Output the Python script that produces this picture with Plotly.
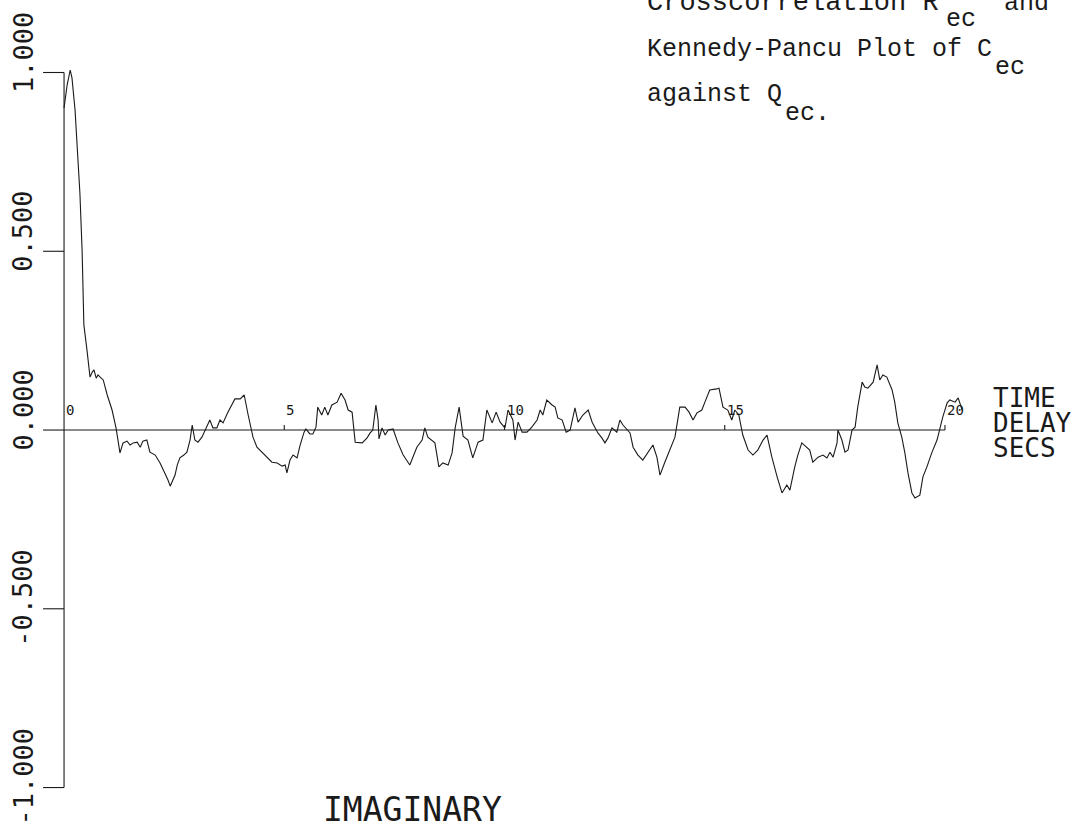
import plotly.graph_objects as go

# ---------------- data ----------------
lag_s = [0.00, 0.07, 0.14, 0.18, 0.25, 0.30, 0.36, 0.41, 0.43, 0.45, 0.52, 0.59, 0.64, 0.68, 0.73, 0.77, 0.82, 0.89, 0.98, 1.09,
         1.18, 1.23, 1.27, 1.34, 1.43, 1.50, 1.57, 1.66, 1.73, 1.79, 1.88, 1.95, 2.07, 2.18, 2.29, 2.36, 2.41, 2.45, 2.52, 2.57,
         2.63, 2.72, 2.79, 2.86, 2.91, 2.97, 3.04, 3.13, 3.20, 3.31, 3.38, 3.47, 3.54, 3.61, 3.72, 3.88, 4.00, 4.09, 4.18, 4.29,
         4.38, 4.49, 4.61, 4.72, 4.84, 4.95, 5.02, 5.06, 5.13, 5.20, 5.29, 5.36, 5.45, 5.49, 5.58, 5.65, 5.72, 5.76, 5.85, 5.92,
         5.99, 6.08, 6.20, 6.29, 6.38, 6.45, 6.54, 6.58, 6.61, 6.77, 6.88, 6.95, 7.01, 7.08, 7.13, 7.15, 7.22, 7.29, 7.36, 7.47,
         7.58, 7.70, 7.85, 8.01, 8.13, 8.19, 8.26, 8.42, 8.51, 8.60, 8.72, 8.81, 8.88, 8.97, 9.06, 9.17, 9.28, 9.40, 9.51, 9.60,
         9.72, 9.81, 9.90, 10.01, 10.08, 10.19, 10.24, 10.31, 10.40, 10.51, 10.62, 10.74, 10.81, 10.87, 10.96, 11.08, 11.15, 11.21, 11.31, 11.40,
         11.49, 11.60, 11.67, 11.78, 11.90, 11.99, 12.05, 12.12, 12.21, 12.28, 12.35, 12.44, 12.55, 12.62, 12.69, 12.78, 12.85, 12.92, 13.03, 13.14,
         13.26, 13.37, 13.46, 13.53, 13.64, 13.76, 13.87, 13.98, 14.10, 14.19, 14.28, 14.37, 14.48, 14.55, 14.66, 14.82, 14.87, 14.96, 15.07, 15.16,
         15.23, 15.32, 15.41, 15.53, 15.64, 15.75, 15.87, 15.96, 16.07, 16.19, 16.30, 16.41, 16.48, 16.59, 16.66, 16.75, 16.87, 16.93, 17.00, 17.12,
         17.23, 17.32, 17.39, 17.46, 17.55, 17.57, 17.66, 17.73, 17.80, 17.89, 17.96, 18.02, 18.12, 18.18, 18.25, 18.37, 18.46, 18.52, 18.59, 18.68,
         18.80, 18.86, 18.93, 19.02, 19.09, 19.16, 19.25, 19.32, 19.43, 19.50, 19.59, 19.70, 19.82, 19.89, 19.95, 20.05, 20.11, 20.23, 20.30, 20.39]

r_ec = [0.901, 0.965, 1.007, 0.985, 0.895, 0.783, 0.663, 0.503, 0.364, 0.294, 0.224, 0.148, 0.162, 0.168, 0.145, 0.154, 0.148, 0.140, 0.098, 0.056,
        0.006, -0.036, -0.064, -0.036, -0.031, -0.042, -0.036, -0.034, -0.048, -0.031, -0.028, -0.062, -0.070, -0.092, -0.120, -0.140, -0.157, -0.145, -0.126, -0.098,
        -0.078, -0.070, -0.062, -0.028, 0.014, -0.028, -0.034, -0.020, 0.000, 0.028, 0.006, 0.006, 0.028, 0.020, 0.050, 0.087, 0.087, 0.098, 0.042, -0.020,
        -0.048, -0.062, -0.078, -0.090, -0.092, -0.101, -0.098, -0.120, -0.084, -0.070, -0.078, -0.042, -0.006, 0.003, -0.011, -0.011, 0.008, 0.064, 0.042, 0.064,
        0.042, 0.070, 0.078, 0.103, 0.084, 0.056, 0.050, -0.008, -0.034, -0.036, -0.022, -0.008, 0.000, 0.070, 0.028, -0.025, 0.006, -0.014, 0.000, 0.003,
        -0.036, -0.070, -0.098, -0.048, -0.028, 0.006, -0.020, -0.036, -0.103, -0.092, -0.098, -0.064, 0.006, 0.064, -0.017, -0.028, -0.078, -0.034, -0.028, 0.056,
        0.020, 0.050, 0.022, 0.006, 0.056, 0.028, -0.028, 0.022, -0.006, -0.006, 0.008, 0.028, 0.056, 0.042, 0.084, 0.070, 0.064, 0.034, 0.028, -0.006,
        0.000, 0.062, 0.022, 0.042, 0.056, 0.022, 0.008, -0.008, -0.022, -0.036, -0.022, 0.006, -0.006, 0.028, 0.014, 0.000, -0.008, -0.048, -0.070, -0.084,
        -0.062, -0.042, -0.076, -0.126, -0.090, -0.056, -0.020, 0.064, 0.064, 0.050, 0.028, 0.048, 0.056, 0.078, 0.112, 0.115, 0.117, 0.064, 0.056, 0.028,
        0.056, 0.042, -0.014, -0.056, -0.070, -0.056, -0.028, -0.014, -0.076, -0.131, -0.176, -0.154, -0.168, -0.103, -0.070, -0.036, -0.048, -0.056, -0.090, -0.076,
        -0.070, -0.078, -0.062, -0.076, -0.036, 0.000, -0.028, -0.062, -0.056, 0.000, 0.008, 0.064, 0.134, 0.120, 0.117, 0.134, 0.182, 0.140, 0.154, 0.148,
        0.112, 0.078, 0.020, -0.020, -0.064, -0.120, -0.176, -0.190, -0.182, -0.131, -0.103, -0.064, -0.028, 0.006, 0.036, 0.076, 0.084, 0.078, 0.090, 0.056]

y_ticks = [-1.0, -0.5, 0.0, 0.5, 1.0]
y_tick_labels = ["-1.000", "-0.500", "0.000", "0.500", "1.000"]
x_ticks = [0, 5, 10, 15, 20]
x_tick_labels = ["0", "5", "10", "15", "20"]
x_axis_end = 20

# ---------------- layout geometry ----------------
W, H = 1074, 829
ML, MR, MT, MB = 20, 85, 1, 20
X_RANGE = [-1.0, 21.0]
Y_RANGE = [-1.06, 1.2]


def paper_x(px):
    return (px - ML) / (W - ML - MR)


def paper_y(py):
    return (H - MB - py) / (H - MT - MB)


INK = "#1a1a1a"
PLOT_FONT = "DejaVu Sans Mono"
TYPE_FONT = "Liberation Mono"

fig = go.Figure()
fig.add_trace(go.Scatter(x=lag_s, y=r_ec, mode="lines",
                         line=dict(color=INK, width=1.1), hoverinfo="skip",
                         showlegend=False))

shapes = []
# vertical axis line
shapes.append(dict(type="line", xref="x", yref="y", x0=0, x1=0,
                   y0=min(y_ticks), y1=max(y_ticks), line=dict(color=INK, width=1.1)))
# y ticks (pointing left)
for t in y_ticks:
    shapes.append(dict(type="line", xref="x", yref="y", xsizemode="pixel", xanchor=0,
                       x0=-21, x1=0, y0=t, y1=t, line=dict(color=INK, width=1.1)))
# horizontal axis line
shapes.append(dict(type="line", xref="x", yref="y", x0=0, x1=x_axis_end, y0=0, y1=0,
                   line=dict(color=INK, width=1.1)))
# x ticks (pointing up)
for t in x_ticks[1:]:
    shapes.append(dict(type="line", xref="x", yref="y", ysizemode="pixel", yanchor=0,
                       x0=t, x1=t, y0=0, y1=5, line=dict(color=INK, width=1.1)))

ann = []
for t, lab in zip(y_ticks, y_tick_labels):
    ann.append(dict(x=0, y=t, xref="x", yref="y", text=lab, showarrow=False,
                    textangle=-90, xanchor="center", yanchor="top",
                    xshift=-41, yshift=62,
                    font=dict(family=PLOT_FONT, size=27, color=INK)))
for t, lab in zip(x_ticks, x_tick_labels):
    ann.append(dict(x=t, y=0, xref="x", yref="y", text=lab, showarrow=False,
                    xanchor="left", yanchor="bottom", xshift=0, yshift=10,
                    font=dict(family=PLOT_FONT, size=14, color=INK)))

# axis titles at right and bottom
for txt, py in [("TIME", 398), ("DELAY", 423), ("SECS", 448)]:
    ann.append(dict(x=paper_x(991), y=paper_y(py), xref="paper", yref="paper", text=txt,
                    showarrow=False, xanchor="left", yanchor="middle",
                    font=dict(family=PLOT_FONT, size=26, color=INK)))
ann.append(dict(x=paper_x(412), y=paper_y(809.5), xref="paper", yref="paper", text="IMAGINARY",
                showarrow=False, xanchor="center", yanchor="middle",
                font=dict(family=PLOT_FONT, size=33, color=INK)))

# typewritten caption (top right)
cap = [
    ("Crosscorrelation R", 645, 10, 27), ("ec", 944, 26, 25), ("and", 1002, 10, 25),
    ("Kennedy-Pancu Plot of C", 645, 56, 25), ("ec", 993, 75, 25),
    ("against Q", 645, 101, 25), ("ec.", 783, 120, 25),
]
for txt, px, base, fs in cap:
    ann.append(dict(x=paper_x(px), y=paper_y(base - 7), xref="paper", yref="paper", text=txt,
                    showarrow=False, xanchor="left", yanchor="middle",
                    font=dict(family=TYPE_FONT, size=fs, color=INK)))

fig.update_layout(
    width=W, height=H,
    margin=dict(l=ML, r=MR, t=MT, b=MB, pad=0),
    paper_bgcolor="white", plot_bgcolor="white",
    xaxis=dict(range=X_RANGE, visible=False, fixedrange=True),
    yaxis=dict(range=Y_RANGE, visible=False, fixedrange=True),
    shapes=shapes, annotations=ann, showlegend=False,
)

fig.write_html("out.html", config={"displayModeBar": False},
               post_script="document.body.style.margin='0px';")
